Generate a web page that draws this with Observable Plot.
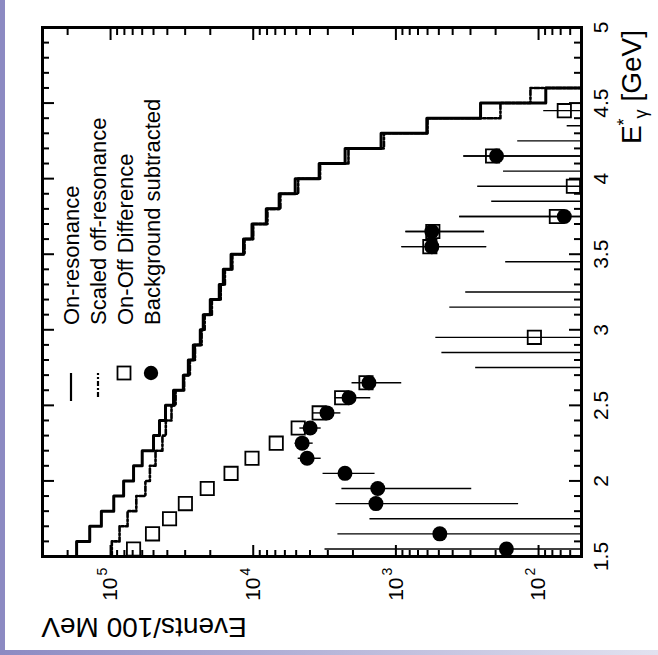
<!DOCTYPE html>
<html><head><meta charset="utf-8">
<script src="https://cdn.jsdelivr.net/npm/d3@7"></script>
<script src="https://cdn.jsdelivr.net/npm/@observablehq/plot@0.6"></script>
<style>
html,body{margin:0;padding:0;background:#fff;width:658px;height:655px;overflow:hidden;}
#strip-left{position:absolute;left:0;top:0;width:5px;height:655px;background:#8c8ac2;}
#strip-bottom{position:absolute;left:0;top:650px;width:658px;height:5px;background:linear-gradient(to right,#8c8ac2,#e2e2f0);}
#rot{position:absolute;left:0;top:0;width:655px;height:658px;transform-origin:0 0;transform:translate(0px,655px) rotate(-90deg);}
</style></head><body>
<div id="rot"></div>
<div id="strip-left"></div><div id="strip-bottom"></div>
<script>
// ---- histogram bins (lower edge, GeV) ----
const binLow = [1.5,1.6,1.7,1.8,1.9,2.0,2.1,2.2,2.3,2.4,2.5,2.6,2.7,2.8,2.9,3.0,3.1,3.2,3.3,3.4,3.5,3.6,3.7,3.8,3.9,4.0,4.1,4.2,4.3,4.4,4.5,4.6];
const binEnd = 4.7;
const onRes  = [173000,140000,116000,95000,81000,69000,60000,50000,45400,41200,36200,30900,28500,26300,23500,22400,20000,17300,16200,14300,11700,10200,8100,6580,5080,3450,2270,1270,607,255,89,20];
const offRes = [98000,86500,76000,66000,57000,53000,48400,43300,41000,37400,35000,30500,27800,25600,23000,21900,19500,16900,15800,14000,11500,10000,7950,6450,4840,3400,2150,1213,600,185,114,20];

// ---- On-Off difference (open squares) ----
const diffE   = [1.55,1.65,1.75,1.85,1.95,2.05,2.15,2.25,2.35,2.45,2.55,2.65,2.95,3.55,3.65,3.75,3.95,4.15,4.45];
const diffVal = [69000,50800,38600,29900,21000,14300,10200,6900,4840,3450,2400,1620,107,578,551,75,57,210,66];
const diffLo  = [null,null,null,null,null,null,null,null,null,null,null,null,10,231,239,10,10,10,10];
const diffHi  = [null,null,null,null,null,null,null,null,null,null,null,null,525,908,851,357,267,334,92];

// ---- Background subtracted (filled circles) ----
const bkgE   = [1.55,1.65,1.75,1.85,1.95,2.05,2.15,2.25,2.35,2.45,2.55,2.65,2.75,2.85,3.15,3.25,3.45,3.55,3.65,3.75,3.85,4.05,4.15,4.25,4.35];
const bkgVal = [168,492,null,1380,1340,2275,4190,4540,3990,3040,2130,1545,null,null,null,null,null,560,560,66,null,null,197,null,null];
const bkgLo  = [10,10,10,138,294,1400,3340,3800,3340,2430,1500,910,10,10,10,10,10,231,239,10,10,10,10,10,10];
const bkgHi  = [3140,2550,1520,2630,2390,3240,4840,5080,4710,3800,2670,2030,276,476,419,324,170,908,851,357,213,176,334,140,63];

// ---- ticks ----
const eMajor = [1.5,2,2.5,3,3.5,4,4.5,5];
const eTickLabels = ["1.5","2","2.5","3","3.5","4","4.5","5"];
const eMinor = [1.6,1.7,1.8,1.9,2.1,2.2,2.3,2.4,2.6,2.7,2.8,2.9,3.1,3.2,3.3,3.4,3.6,3.7,3.8,3.9,4.1,4.2,4.3,4.4,4.6,4.7,4.8,4.9];
const nMajor = [100,1000,10000,100000];
const nBase = ["10","10","10","10"];
const nExp = ["2","3","4","5"];
const nMinor = [60,70,80,90,200,300,400,500,600,700,800,900,2000,3000,4000,5000,6000,7000,8000,9000,20000,30000,40000,50000,60000,70000,80000,90000,200000,300000];

const legendLabels = ["On-resonance","Scaled off-resonance","On-Off Difference","Background subtracted"];

const FONT = "'Liberation Sans', Arial, Helvetica, sans-serif";

const W = 655, H = 658, ML = 98, MR = 28, MT = 42, MB = 77;
const FW = W - ML - MR, FH = H - MT - MB;   // frame size in px
const E0 = 1.5, E1 = 5, N0 = 50, N1 = 300000;
const MAJ = 12, MIN = 7;
// tick lengths expressed in each scale's units (px -> data)
const eLen = px => px * (E1 - E0) / FW;
const nFac = px => Math.pow(10, px * Math.log10(N1 / N0) / FH);

const histE = binLow.concat([binEnd]);
const histOn = onRes.concat([onRes[onRes.length-1]]);
const histOff = offRes.concat([offRes[offRes.length-1]]);
const hIdx = d3.range(histE.length);
const dIdx = d3.range(diffE.length);
const bIdx = d3.range(bkgE.length);

const tk = {stroke: "black", strokeWidth: 2};

const svg = Plot.plot({
  width: W, height: H,
  marginLeft: ML, marginRight: MR, marginTop: MT, marginBottom: MB,
  style: {fontFamily: FONT},
  x: {domain: [E0, E1], axis: null},
  y: {type: "log", domain: [N0, N1], axis: null},
  marks: [
    // inward ticks on all four sides
    Plot.ruleX(eMajor, {x: d => d, y1: N0, y2: N0 * nFac(MAJ), ...tk}),
    Plot.ruleX(eMinor, {x: d => d, y1: N0, y2: N0 * nFac(MIN), ...tk}),
    Plot.ruleX(eMajor, {x: d => d, y1: N1, y2: N1 / nFac(MAJ), ...tk}),
    Plot.ruleX(eMinor, {x: d => d, y1: N1, y2: N1 / nFac(MIN), ...tk}),
    Plot.ruleY(nMajor, {y: d => d, x1: E0, x2: E0 + eLen(MAJ), ...tk}),
    Plot.ruleY(nMinor, {y: d => d, x1: E0, x2: E0 + eLen(MIN), ...tk}),
    Plot.ruleY(nMajor, {y: d => d, x1: E1, x2: E1 - eLen(MAJ), ...tk}),
    Plot.ruleY(nMinor, {y: d => d, x1: E1, x2: E1 - eLen(MIN), ...tk}),
    Plot.line(hIdx, {x: histE, y: histOff, curve: "step-after", stroke: "black", strokeWidth: 2.6, strokeDasharray: "5 2 2 2", clip: true}),
    Plot.line(hIdx, {x: histE, y: histOn, curve: "step-after", stroke: "black", strokeWidth: 3, clip: true}),
    Plot.ruleX(dIdx, {x: diffE, y1: diffLo, y2: diffHi, stroke: "black", strokeWidth: 1.4, clip: true}),
    Plot.ruleX(bIdx, {x: bkgE, y1: bkgLo, y2: bkgHi, stroke: "black", strokeWidth: 1.4, clip: true}),
    Plot.dot(dIdx, {x: diffE, y: diffVal, symbol: "square", r: 7.5, stroke: "black", strokeWidth: 1.8, fill: "none", clip: true}),
    Plot.dot(bIdx, {x: bkgE, y: bkgVal, r: 7.5, fill: "black", stroke: "none", clip: true}),
    Plot.text(eMajor, {x: d => d, frameAnchor: "bottom", dy: 12, lineAnchor: "top", text: eTickLabels, fontSize: 21, fill: "black"}),
    Plot.text(nMajor, {y: d => d, frameAnchor: "left", dx: -21, textAnchor: "end", text: nBase, fontSize: 21, fill: "black"}),
    Plot.text(nMajor, {y: d => d, frameAnchor: "left", dx: -19, dy: -8, textAnchor: "start", text: nExp, fontSize: 14, fill: "black"}),
    Plot.frame({stroke: "black", strokeWidth: 3})
  ]
});

const s = d3.select(svg);
// y-axis title
s.append("text")
  .attr("transform", "translate(37,144) rotate(-90)")
  .attr("text-anchor", "middle")
  .attr("font-size", 28).attr("font-family", FONT).attr("fill", "black")
  .text("Events/100 MeV");
// x-axis title
const xt = s.append("text")
  .attr("x", 625).attr("y", 641)
  .attr("text-anchor", "end")
  .attr("font-size", 28).attr("font-family", FONT).attr("fill", "black");
xt.append("tspan").text("E");
xt.append("tspan").attr("dy", -11).attr("font-size", 18).text("*");
xt.append("tspan").attr("dy", 17).attr("font-size", 18).text("γ");
xt.append("tspan").attr("dy", -6).text(" [GeV]");

// legend
const lg = s.append("g").attr("font-family", FONT).attr("font-size", 22).attr("fill", "black").attr("text-anchor", "start");
lg.append("line").attr("x1", 254).attr("x2", 282).attr("y1", 71).attr("y2", 71).attr("stroke", "black").attr("stroke-width", 2.2);
lg.append("line").attr("x1", 258).attr("x2", 282).attr("y1", 98).attr("y2", 98).attr("stroke", "black").attr("stroke-width", 2.2).attr("stroke-dasharray", "5 2 2 2");
lg.append("rect").attr("x", 275.5).attr("y", 117.5).attr("width", 13).attr("height", 13).attr("fill", "none").attr("stroke", "black").attr("stroke-width", 1.8);
lg.append("circle").attr("cx", 282).attr("cy", 151).attr("r", 7.2).attr("fill", "black");
const baselines = [79, 106, 133, 160];
legendLabels.forEach((t, i) => {
  lg.append("text").attr("x", 330).attr("y", baselines[i]).attr("text-anchor", "start").text(t);
});

document.getElementById("rot").appendChild(svg);
</script></body></html>
